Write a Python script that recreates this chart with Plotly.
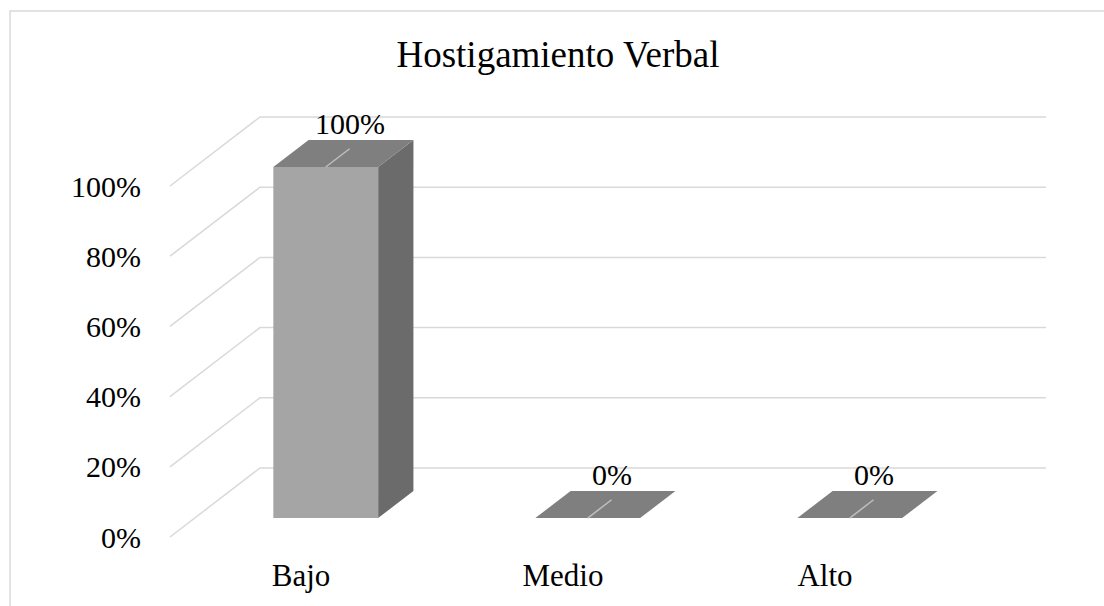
import plotly.graph_objects as go

# data
categories = ["Bajo", "Medio", "Alto"]
values = [100, 0, 0]
tick_values = [0, 20, 40, 60, 80, 100]
tick_labels = ["0%", "20%", "40%", "60%", "80%", "100%"]

# oblique "3D" look: shift applied per unit of depth (x in category units, y in %)
DX = -0.3435
DY = -19.66
Z_BACK = 0.333   # depth of the bar back face
Z_FRONT = 0.725  # depth of the bar front face
Z_LABEL = 0.46   # where the data label leader ends
HALF_W = 0.2

FONT = "Liberation Serif, Times New Roman, Tinos, DejaVu Serif, serif"
GRID = "#d9d9d9"
FRONT_COLOR = "#a5a5a5"
TOP_COLOR = "#7f7f7f"
SIDE_COLOR = "#6b6b6b"


def poly(xs, ys, color):
    return go.Scatter(
        x=xs + [xs[0]], y=ys + [ys[0]], mode="lines", fill="toself",
        fillcolor=color, line=dict(width=0, color=color), hoverinfo="skip",
    )


fig = go.Figure()

# back wall and side wall gridlines
gx, gy = [], []
x_left = -0.5
x_right = len(categories) - 0.5
for t in tick_values:
    gx += [x_left + DX, x_left, x_right, None]
    gy += [t + DY, t, t, None]
fig.add_trace(go.Scatter(x=gx, y=gy, mode="lines",
                         line=dict(color=GRID, width=1.5), hoverinfo="skip"))

# bars
for i, v in enumerate(values):
    xl_f = i - HALF_W + DX * Z_FRONT
    xr_f = i + HALF_W + DX * Z_FRONT
    xl_b = i - HALF_W + DX * Z_BACK
    xr_b = i + HALF_W + DX * Z_BACK
    yf = DY * Z_FRONT
    yb = DY * Z_BACK
    if v > 0:
        fig.add_trace(poly([xr_f, xr_b, xr_b, xr_f], [yf, yb, v + yb, v + yf], SIDE_COLOR))
        fig.add_trace(poly([xl_f, xr_f, xr_f, xl_f], [yf, yf, v + yf, v + yf], FRONT_COLOR))
    fig.add_trace(poly([xl_f, xr_f, xr_b, xl_b], [v + yf, v + yf, v + yb, v + yb], TOP_COLOR))

# leader lines and data labels
lx, ly = [], []
for i, v in enumerate(values):
    lx += [i + DX * Z_FRONT, i + DX * Z_LABEL, None]
    ly += [v + DY * Z_FRONT, v + DY * Z_LABEL, None]
fig.add_trace(go.Scatter(x=lx, y=ly, mode="lines",
                         line=dict(color="#bfbfbf", width=1.5), hoverinfo="skip"))

for i, v in enumerate(values):
    fig.add_annotation(
        x=i + DX * Z_LABEL, y=v + DY * Z_LABEL, text=f"{v}%",
        showarrow=False, yanchor="bottom", yshift=7,
        font=dict(family=FONT, size=30, color="#000000"),
    )

# frame around the chart
fig.add_shape(type="rect", xref="paper", yref="paper",
              x0=-0.1538, x1=1.06, y0=-0.17, y1=1.1987,
              line=dict(color=GRID, width=1.5))

fig.update_layout(
    width=1104, height=606,
    margin=dict(l=150, r=44, t=100, b=58),
    paper_bgcolor="white", plot_bgcolor="white",
    showlegend=False,
    title=dict(text="Hostigamiento Verbal", x=0.5054, xref="container",
               y=1 - 54 / 606, yref="container", yanchor="middle", xanchor="center",
               font=dict(family=FONT, size=37, color="#000000")),
    font=dict(family=FONT, size=30, color="#000000"),
)
fig.update_xaxes(
    range=[-0.9198, 2.5534], showgrid=False, zeroline=False, showline=False,
    tickmode="array", tickvals=[i + DX for i in range(len(categories))],
    ticktext=categories, ticks="", ticklabelstandoff=6,
    tickfont=dict(family=FONT, size=31),
)
fig.update_yaxes(
    range=[-22.79, 104.84], showgrid=False, zeroline=False, showline=False,
    tickmode="array", tickvals=[t + DY for t in tick_values],
    ticktext=tick_labels, ticks="", ticklabelstandoff=8,
    tickfont=dict(family=FONT, size=30),
)

# remove the default page margin so the figure sits at the window corner
fig.write_html("out.html", config={"displayModeBar": False},
               post_script="document.body.style.margin='0';")
